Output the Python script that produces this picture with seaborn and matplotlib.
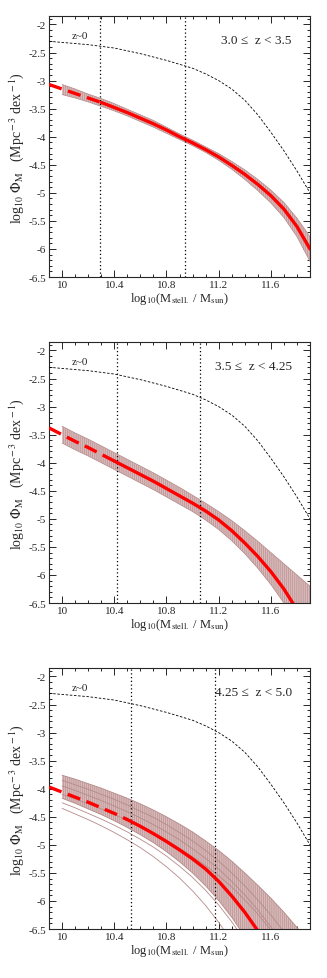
import numpy as np
import matplotlib
matplotlib.use("Agg")
import matplotlib.pyplot as plt
import seaborn as sns
from matplotlib.ticker import MultipleLocator, FuncFormatter

# =====================================================
# DATOS
# =====================================================

x_fit = [9.9, 10.0, 10.1, 10.2, 10.3, 10.4, 10.5, 10.6, 10.7, 10.8, 10.9,
         11.0, 11.1, 11.2, 11.3, 11.4, 11.5, 11.6, 11.7, 11.8, 11.9]
x_band = x_fit[1:]

# z~0 reference (same in all panels)
z0_y = [-2.30, -2.32, -2.34, -2.36, -2.39, -2.42, -2.47, -2.52, -2.58, -2.64, -2.71,
        -2.78, -2.88, -3.00, -3.15, -3.35, -3.61, -3.92, -4.25, -4.61, -5.00]

z_labels = ["3.0 \u2264  z < 3.5", "3.5 \u2264  z < 4.25", "4.25 \u2264  z < 5.0"]
mass_limits = [(10.29, 10.94), (10.42, 11.06), (10.53, 11.17)]
dash_cut = [10.3, 10.4, 10.5]

fit_p1 = [-3.07, -3.15, -3.23, -3.31, -3.39, -3.48, -3.57, -3.67, -3.77, -3.88, -4.00,
          -4.11, -4.23, -4.36, -4.51, -4.67, -4.85, -5.05, -5.29, -5.60, -6.00]
fit_p2 = [-3.38, -3.50, -3.62, -3.73, -3.85, -3.97, -4.09, -4.21, -4.33, -4.46, -4.59,
          -4.72, -4.86, -5.02, -5.21, -5.43, -5.67, -5.94, -6.25, -6.62, -7.05]
fit_p3 = [-3.97, -4.06, -4.15, -4.24, -4.34, -4.44, -4.55, -4.67, -4.80, -4.94, -5.09,
          -5.25, -5.43, -5.65, -5.91, -6.20, -6.53, -6.92, -7.40, -7.90, -8.40]

# bandas de incertidumbre (paneles 1 y 2)
up_p1 = [-3.07, -3.15, -3.24, -3.32, -3.41, -3.51, -3.61, -3.71, -3.83, -3.95,
         -4.06, -4.18, -4.30, -4.44, -4.59, -4.76, -4.95, -5.17, -5.45, -5.78]
lo_p1 = [-3.25, -3.31, -3.38, -3.46, -3.54, -3.63, -3.73, -3.83, -3.94, -4.05,
         -4.16, -4.28, -4.42, -4.58, -4.76, -4.96, -5.18, -5.44, -5.78, -6.22]
up_p2 = [-3.35, -3.47, -3.58, -3.70, -3.82, -3.94, -4.06, -4.18, -4.31, -4.44,
         -4.58, -4.72, -4.87, -5.03, -5.21, -5.40, -5.60, -5.80, -6.00, -6.20]
lo_p2 = [-3.65, -3.77, -3.88, -4.00, -4.12, -4.24, -4.36, -4.48, -4.61, -4.74,
         -4.87, -5.02, -5.19, -5.39, -5.62, -5.88, -6.17, -6.50, -6.85, -7.25]

# realizaciones individuales (panel 3)
p3_a = [-3.76, -3.83, -3.91, -3.99, -4.08, -4.17, -4.27, -4.38, -4.50, -4.63,
        -4.77, -4.93, -5.10, -5.29, -5.50, -5.72, -5.95, -6.20, -6.47, -6.76]
p3_b = [-3.85, -3.93, -4.01, -4.10, -4.19, -4.29, -4.40, -4.51, -4.64, -4.78,
        -4.93, -5.10, -5.29, -5.50, -5.73, -5.98, -6.25, -6.55, -6.88, -7.22]
p3_c = [-3.95, -4.03, -4.12, -4.21, -4.31, -4.41, -4.52, -4.64, -4.77, -4.91,
        -5.07, -5.24, -5.43, -5.65, -5.89, -6.16, -6.46, -6.79, -7.15, -7.55]
p3_d = [-4.10, -4.18, -4.27, -4.36, -4.46, -4.56, -4.67, -4.79, -4.92, -5.06,
        -5.21, -5.37, -5.55, -5.75, -5.98, -6.23, -6.52, -6.85, -7.21, -7.60]
p3_e = [-4.17, -4.26, -4.36, -4.46, -4.57, -4.69, -4.82, -4.96, -5.12, -5.30,
        -5.50, -5.73, -5.99, -6.29, -6.63, -7.00, -7.40, -7.85, -8.30, -8.80]
p3_f = [-4.25, -4.34, -4.44, -4.54, -4.65, -4.77, -4.90, -5.04, -5.20, -5.38,
        -5.58, -5.81, -6.07, -6.37, -6.71, -7.10, -7.50, -8.00, -8.50, -9.00]
p3_g = [-4.35, -4.45, -4.55, -4.66, -4.78, -4.91, -5.05, -5.21, -5.39, -5.59,
        -5.82, -6.08, -6.38, -6.72, -7.10, -7.50, -7.90, -8.40, -8.90, -9.40]

fits = [fit_p1, fit_p2, fit_p3]
bands = [(up_p1, lo_p1), (up_p2, lo_p2), (p3_a, p3_e)]
p3_lines = [p3_a, p3_b, p3_c, p3_d, p3_e, p3_f, p3_g]

# =====================================================
# ESTILO
# =====================================================

sns.set_style("ticks")
plt.rcParams["font.family"] = ["Liberation Serif", "DejaVu Serif"]
plt.rcParams["mathtext.fontset"] = "stix"
plt.rcParams["axes.unicode_minus"] = False
plt.rcParams["hatch.linewidth"] = 0.4

band_face = "#d7b9b9"
band_line = "#b58a8a"

fig = plt.figure(figsize=(3.27, 9.79), dpi=100)
bottoms = [0.716, 0.383, 0.050]

for i in range(3):
    ax = fig.add_axes([0.150, bottoms[i], 0.798, 0.2666])

    x_arr = np.array(x_band)
    up, lo = bands[i]
    ax.fill_between(x_arr, lo, up, facecolor=band_face, edgecolor=band_line,
                    hatch="||||||||", linewidth=0, zorder=1)
    if i < 2:
        for edge in (up, lo):
            sns.lineplot(x=x_band, y=edge, ax=ax, color=band_line, lw=0.5,
                         estimator=None, sort=False, zorder=2)
    else:
        for line in p3_lines:
            sns.lineplot(x=x_band, y=line, ax=ax, color=band_line, lw=0.6,
                         estimator=None, sort=False, zorder=2)

    # z~0
    sns.lineplot(x=x_fit, y=z0_y, ax=ax, color="black", lw=0.6,
                 linestyle=(0, (3, 2)), estimator=None, sort=False, zorder=3)

    for xv in mass_limits[i]:
        ax.axvline(xv, color="black", lw=0.9, linestyle=(0, (1, 2)), zorder=3)

    xf = np.array(x_fit)
    yf = np.array(fits[i])
    m_d = xf <= dash_cut[i] + 1e-9
    m_s = xf >= dash_cut[i] - 1e-9
    sns.lineplot(x=xf[m_d], y=yf[m_d], ax=ax, color="red", lw=2.4,
                 linestyle=(0, (4, 2)), estimator=None, sort=False, zorder=5)
    sns.lineplot(x=xf[m_s], y=yf[m_s], ax=ax, color="red", lw=2.4,
                 estimator=None, sort=False, zorder=5)

    ax.set_xlim(9.9, 11.9)
    ax.set_ylim(-6.5, -1.85)

    ax.set_xticks([10.0, 10.4, 10.8, 11.2, 11.6])
    ax.xaxis.set_minor_locator(MultipleLocator(0.1))
    ax.yaxis.set_major_locator(MultipleLocator(0.5))
    ax.yaxis.set_minor_locator(MultipleLocator(0.1))
    ax.xaxis.set_major_formatter(FuncFormatter(lambda v, p: f"{v:g}"))
    ax.yaxis.set_major_formatter(FuncFormatter(lambda v, p: f"{v:g}"))

    ax.tick_params(which="both", direction="in", top=True, right=True,
                   width=0.7, labelsize=8, pad=2)
    ax.tick_params(which="major", length=5)
    ax.tick_params(which="minor", length=2.5)
    for sp in ax.spines.values():
        sp.set_linewidth(0.8)

    ax.set_xlabel(r"log$_{10}$(M$_{\rm stell.}$ / M$_{\rm sun}$)", fontsize=9, labelpad=1)
    ax.set_ylabel(r"log$_{10}$ $\Phi_{\rm M}$   (Mpc$^{\rm -3}$ dex$^{\rm -1}$)",
                  fontsize=10, labelpad=2)

    ax.text(10.07, -2.2, "z~0", fontsize=8, ha="left", va="center")
    ax.text(11.76, -2.27, z_labels[i], fontsize=9.5, ha="right", va="center")

fig.savefig("out.png", dpi=100)
